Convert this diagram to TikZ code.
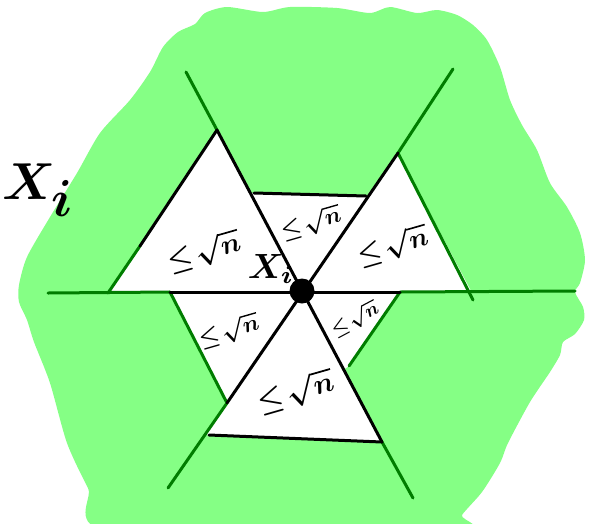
\documentclass[tikz,border=0pt]{standalone}
\definecolor{blob}{RGB}{133,255,133}
\definecolor{edgegreen}{RGB}{0,125,0}
\tikzset{
  blackline/.style={line width=3pt,line cap=round,draw=black},
  greenline/.style={line width=3pt,line cap=round,draw=edgegreen},
  lbl/.style={inner sep=0pt,rotate=16,text=black,font=\boldmath},
}
\begin{document}
\begin{tikzpicture}[x=1pt,y=-1pt]
\useasboundingbox (0,0) rectangle (597,523);
% green blob
\fill[blob] plot[smooth cycle,tension=0.45] coordinates {
 (130,100) (150,72) (163,47) (178,32) (195,24) (205,13) (227,7) (263,12) (290,7)
 (337,8) (370,13) (390,7) (417,13) (437,10) (457,15) (473,25) (487,40) (500,67)
 (510,100) (522,125) (537,150) (550,183) (567,207) (580,233) (585,260) (580,283)
 (575,292) (583,307) (584,320) (575,334) (563,342) (560,355) (550,372) (530,402)
 (508,443) (500,463) (482,492) (462,515) (455,532) (113,532) (88,488) (67,443)
 (50,383) (34,342) (27,320) (19,302) (19,285) (27,257) (50,217) (77,173) (100,133)};
% white region
\fill[white] (108,293) -- (217,130) -- (250,193) -- (367,196) -- (398,153)
  -- (471,291) -- (400,292) -- (349,366) -- (343,370) -- (382,442)
  -- (206,435) -- (227,403) -- (170,292) -- cycle;
% key points
\coordinate (C) at (302,291);
\coordinate (U2) at (186,72);  \coordinate (T2) at (217,130);
\coordinate (B2) at (382,442); \coordinate (E2) at (413,498);
\coordinate (U3) at (453,69);  \coordinate (T3) at (398,153);
\coordinate (B3) at (227,403); \coordinate (E3) at (168,488);
\coordinate (HL) at (48,293);  \coordinate (L1) at (108,293);
\coordinate (L2) at (170,292); \coordinate (R1) at (400,292);
\coordinate (R2) at (470,291); \coordinate (HR) at (575,291);
\coordinate (LM) at (140,246);
\coordinate (P1) at (254,193); \coordinate (P2) at (366,196);
\coordinate (RE) at (473,300);
\coordinate (RL) at (349,366);
\coordinate (BL) at (209,435);
% green lines
\draw[greenline] (U2) -- (T2);
\draw[greenline] (B2) -- (E2);
\draw[greenline] (U3) -- (T3);
\draw[greenline] (B3) -- (E3);
\draw[greenline] (HL) -- (L2);
\draw[greenline] (R1) -- (HR);
\draw[greenline] (L1) -- (LM);
\draw[greenline] (T3) -- (RE);
\draw[greenline] (R1) -- (RL);
\draw[greenline] (L2) -- (B3);
% black lines
\draw[blackline] (T2) -- (B2);
\draw[blackline] (T3) -- (B3);
\draw[blackline] (L2) -- (R1);
\draw[blackline] (LM) -- (T2);
\draw[blackline] (P1) -- (P2);
\draw[blackline] (BL) -- (B2);
% labels
\node[lbl,scale=2.8] (ul) at (204,252) {$\leq\!\sqrt{n}$};
\node[lbl,scale=2.3] (um) at (311,223) {$\leq\!\sqrt{n}$};
\node[lbl,scale=2.7] (ur) at (393,246) {$\leq\!\sqrt{n}$};
\node[lbl,scale=2.3] (ll) at (229,331) {$\leq\!\sqrt{n}$};
\node[lbl,scale=1.9,rotate=12] (lr) at (355,319) {$\leq\!\sqrt{n}$};
\node[lbl,scale=2.9] (lo) at (296,392) {$\leq\!\sqrt{n}$};
\node[inner sep=0pt,font=\boldmath,scale=3.5] (xc) at (271,269) {$X_i$};
\node[inner sep=0pt,anchor=west,font=\boldmath,scale=5.2] (xl) at (1,190) {$X_{\textstyle i}$};
% centre point
\node[circle,fill=black,minimum size=25pt,inner sep=0pt] (xi) at (C) {};
\end{tikzpicture}
\end{document}
